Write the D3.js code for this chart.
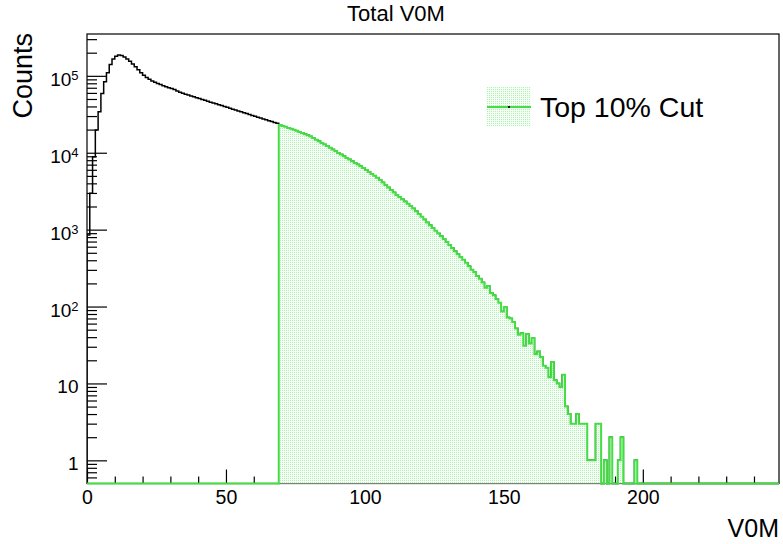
<!DOCTYPE html>
<html>
<head>
<meta charset="utf-8">
<script src="https://cdn.jsdelivr.net/npm/d3@7/dist/d3.min.js"></script>
<style>
  body { margin: 0; background: #fff; }
  text { font-family: "Liberation Sans", Arial, Helvetica, sans-serif; fill: #000; }
</style>
</head>
<body>
<div class="chart"></div>
<script>
// V0M histogram, bin width 1, bin i covers [i, i+1)
var totalCounts = [
  850, 2970, 8870, 19700, 34100, 59100, 83600, 110000, 140000, 166000,
  180000, 186000, 184000, 176000, 166000, 155000, 143000, 131000, 120000, 110000,
  102000, 95000, 90000, 86000, 82500, 79500, 77000, 74500, 72300, 70200,
  68200, 66200, 63500, 61000, 59400, 57800, 56300, 54800, 53400, 52000,
  50600, 49300, 48000, 46800, 45500, 44400, 43200, 42100, 41000, 39900,
  38900, 37800, 36900, 35900, 35000, 34000, 33200, 32300, 31400, 30600,
  29800, 29000, 28300, 27500, 26800, 26100, 25400, 24800, 24100, 22900,
  22300, 21700, 21000, 20500, 19900, 19300, 18600, 18000, 17400, 16900,
  16300, 15600, 14800, 14100, 13400, 12800, 12200, 11600, 11000, 10500,
  9950, 9460, 9020, 8570, 8150, 7760, 7380, 7020, 6680, 6310,
  5960, 5620, 5310, 5010, 4730, 4420, 4100, 3800, 3530, 3280,
  3040, 2830, 2650, 2480, 2320, 2170, 2030, 1880, 1730, 1600,
  1470, 1350, 1240, 1140, 1050, 970, 890, 820, 755, 690,
  630, 575, 525, 480, 440, 405, 370, 335, 300, 280,
  250, 230, 205, 175, 185, 150, 140, 125, 112, 86,
  99, 72, 70, 63, 52, 43, 45, 31, 44, 33,
  39, 24, 26, 22, 17, 16, 12, 19, 11, 10,
  9, 13, 5, 4, 3, 3, 4, 3, 3, 3,
  1, 1, 1, 3, 3, 0, 1, 0, 2, 0,
  0, 1, 2, 0, 0, 0, 0, 1
];
var cutFirstBin = 69;   // top 10% cut starts here

var xDomain = [0, 249];
var yDomain = [0.5, 3.5e5];
var xMajorTicks = [0, 50, 100, 150, 200];
var xMinorTicks = [10, 20, 30, 40, 60, 70, 80, 90, 110, 120, 130, 140, 160, 170, 180, 190, 210, 220, 230, 240];
var yMajorTicks = [1, 10, 100, 1000, 10000, 100000];

var svgWidth = 783;
var svgHeight = 544;
var frame = { left: 87, right: 779, top: 34, bottom: 483.5 };
var nBins = xDomain[1];
var cutColor = "#44dd44";

var svg = d3.select(".chart")
  .append("svg")
  .attr("width", svgWidth)
  .attr("height", svgHeight)
  .style("display", "block");

var defs = svg.append("defs");

// ROOT-like dotted fill (sparse light dots)
var pat = defs.append("pattern")
  .attr("id", "dots")
  .attr("patternUnits", "userSpaceOnUse")
  .attr("width", 2)
  .attr("height", 2);
pat.append("rect")
  .attr("width", 2).attr("height", 2)
  .attr("fill", "#f7fef7")
  .attr("shape-rendering", "crispEdges");
pat.append("rect")
  .attr("width", 1).attr("height", 1)
  .attr("fill", "#aef3ae")
  .attr("shape-rendering", "crispEdges");

defs.append("clipPath").attr("id", "frameClip")
  .append("rect")
  .attr("x", frame.left)
  .attr("y", frame.top)
  .attr("width", frame.right - frame.left)
  .attr("height", frame.bottom - frame.top + 1.5);

var xScale = d3.scaleLinear().domain(xDomain).range([frame.left, frame.right]);
var yScale = d3.scaleLog().domain(yDomain).range([frame.bottom, frame.top]);

// frame
svg.append("rect")
  .attr("x", frame.left)
  .attr("y", frame.top)
  .attr("width", frame.right - frame.left)
  .attr("height", frame.bottom - frame.top)
  .attr("fill", "none")
  .attr("stroke", "#000")
  .attr("stroke-width", 1.2);

// x axis
var xMajorAxis = d3.axisBottom(xScale)
  .tickValues(xMajorTicks)
  .tickSize(-14)
  .tickPadding(7)
  .tickFormat(d3.format("d"));
var xMinorAxis = d3.axisBottom(xScale)
  .tickValues(xMinorTicks)
  .tickSize(-7)
  .tickFormat("");

svg.append("g")
  .attr("transform", `translate(0, ${frame.bottom})`)
  .call(xMinorAxis)
  .call(g => g.select(".domain").remove());

svg.append("g")
  .attr("class", "xaxis")
  .attr("transform", `translate(0, ${frame.bottom})`)
  .call(xMajorAxis)
  .call(g => g.select(".domain").remove())
  .selectAll("text")
  .style("font-size", "19.5px");

// y axis
var yMinorTicks = yScale.ticks().filter(function(d) {
  return yMajorTicks.indexOf(d) < 0 && d > yDomain[0];
});

svg.append("g")
  .attr("transform", `translate(${frame.left}, 0)`)
  .call(d3.axisLeft(yScale).tickValues(yMinorTicks).tickSize(-10).tickFormat(""))
  .call(g => g.select(".domain").remove());

var yAxisG = svg.append("g")
  .attr("transform", `translate(${frame.left}, 0)`)
  .call(d3.axisLeft(yScale).tickValues(yMajorTicks).tickSize(-20).tickPadding(8.5))
  .call(g => g.select(".domain").remove());

yAxisG.selectAll(".tick text")
  .style("font-size", "19px")
  .attr("dy", "0.5em")
  .each(function(d) {
    var t = d3.select(this).text("");
    var p = Math.round(Math.log10(d));
    if (p < 2) {
      t.text(d);
    } else {
      t.append("tspan").text("10");
      t.append("tspan").attr("dy", "-0.45em").style("font-size", "13px").text(p);
    }
  });

svg.selectAll(".tick line").attr("stroke", "#000").attr("stroke-width", 1.2);

// histogram outlines
function stepPoints(values, firstBin) {
  var pts = [[xScale(0), frame.bottom]];
  for (var i = 0; i < nBins; i++) {
    var v = i >= firstBin ? (values[i] || 0) : 0;
    var yy = v > 0 ? yScale(v) : frame.bottom;
    pts.push([xScale(i), yy], [xScale(i + 1), yy]);
  }
  pts.push([xScale(nBins), frame.bottom]);
  return pts;
}

var plot = svg.append("g").attr("clip-path", "url(#frameClip)");

plot.append("path")
  .attr("d", d3.line()(stepPoints(totalCounts, 0)))
  .attr("fill", "none")
  .attr("stroke", "#000")
  .attr("stroke-width", 1.5);

var cutPts = stepPoints(totalCounts, cutFirstBin);

plot.append("path")
  .attr("d", d3.line()(cutPts) + "Z")
  .attr("fill", "url(#dots)")
  .attr("stroke", "none");

plot.append("path")
  .attr("d", d3.line()(cutPts))
  .attr("fill", "none")
  .attr("stroke", cutColor)
  .attr("stroke-width", 2);

// legend
var legend = svg.append("g").attr("transform", "translate(487, 87)");
legend.append("rect")
  .attr("width", 44)
  .attr("height", 40)
  .attr("fill", "url(#dots)");
legend.append("line")
  .attr("x1", 0).attr("x2", 44)
  .attr("y1", 20).attr("y2", 20)
  .attr("stroke", cutColor)
  .attr("stroke-width", 2);
legend.append("rect")
  .attr("x", 21).attr("y", 19)
  .attr("width", 2).attr("height", 2)
  .attr("fill", "#000");
legend.append("text")
  .attr("x", 53)
  .attr("y", 30)
  .style("font-size", "28.5px")
  .text("Top 10% Cut");

// titles
svg.append("text")
  .attr("x", 396)
  .attr("y", 21)
  .attr("text-anchor", "middle")
  .style("font-size", "22px")
  .text("Total V0M");

svg.append("text")
  .attr("x", frame.right)
  .attr("y", 536.5)
  .attr("text-anchor", "end")
  .style("font-size", "25px")
  .text("V0M");

svg.append("text")
  .attr("transform", "rotate(-90)")
  .attr("x", -33)
  .attr("y", 32)
  .attr("text-anchor", "end")
  .style("font-size", "27px")
  .text("Counts");
</script>
</body>
</html>
